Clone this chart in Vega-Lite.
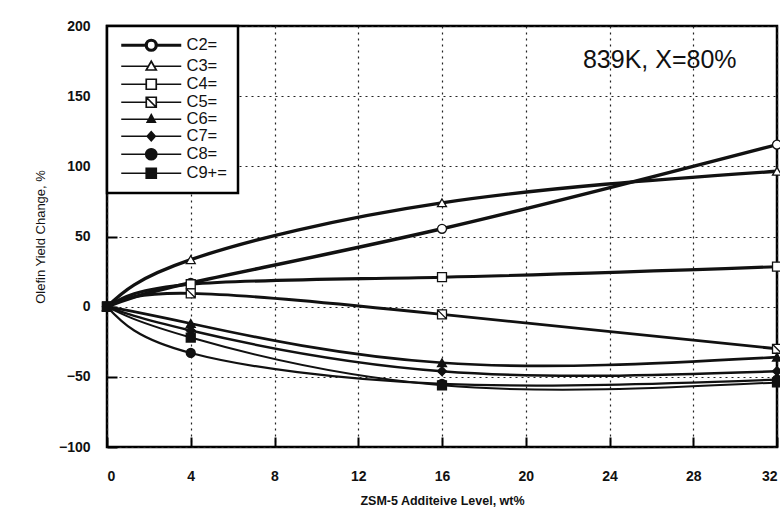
{
  "$schema": "https://vega.github.io/schema/vega-lite/v6.json",
  "width": 670,
  "height": 421,
  "autosize": {"type": "none"},
  "padding": {"left": 107, "top": 26, "right": 3, "bottom": 65},
  "background": "white",
  "config": {
    "view": {"stroke": "#000", "strokeWidth": 2.5},
    "font": "Liberation Sans",
    "axis": {
      "domain": false,
      "gridColor": "#222",
      "gridDash": [2, 4],
      "gridWidth": 1.2,
      "gridOpacity": 1,
      "tickColor": "#000",
      "tickWidth": 2,
      "labelFont": "Liberation Sans",
      "labelFontSize": 14,
      "labelFontWeight": "bold",
      "labelColor": "#111",
      "titleFont": "Liberation Sans",
      "titleColor": "#111"
    },
    "legend": {"strokeWidth": 2.5}
  },
  "datasets": {
    "pts": [
      {"s": "C2=", "x": 0, "y": 0}, {"s": "C2=", "x": 4, "y": 17}, {"s": "C2=", "x": 16, "y": 55.5}, {"s": "C2=", "x": 32, "y": 115.5},
      {"s": "C3=", "x": 0, "y": 0}, {"s": "C3=", "x": 4, "y": 33.5}, {"s": "C3=", "x": 16, "y": 74}, {"s": "C3=", "x": 32, "y": 96.5},
      {"s": "C4=", "x": 0, "y": 0}, {"s": "C4=", "x": 4, "y": 16}, {"s": "C4=", "x": 16, "y": 21}, {"s": "C4=", "x": 32, "y": 28.5},
      {"s": "C5=", "x": 0, "y": 0}, {"s": "C5=", "x": 4, "y": 9.5}, {"s": "C5=", "x": 16, "y": -5.5}, {"s": "C5=", "x": 32, "y": -30},
      {"s": "C6=", "x": 0, "y": 0}, {"s": "C6=", "x": 4, "y": -12}, {"s": "C6=", "x": 16, "y": -40}, {"s": "C6=", "x": 32, "y": -36},
      {"s": "C7=", "x": 0, "y": 0}, {"s": "C7=", "x": 4, "y": -17}, {"s": "C7=", "x": 16, "y": -46}, {"s": "C7=", "x": 32, "y": -46},
      {"s": "C8=", "x": 0, "y": 0}, {"s": "C8=", "x": 4, "y": -33}, {"s": "C8=", "x": 16, "y": -55}, {"s": "C8=", "x": 32, "y": -52},
      {"s": "C9+=", "x": 0, "y": 0}, {"s": "C9+=", "x": 4, "y": -22}, {"s": "C9+=", "x": 16, "y": -56}, {"s": "C9+=", "x": 32, "y": -54}
    ]
  },
  "data": {"name": "pts"},
  "layer": [
    {
      "mark": {"type": "line", "interpolate": "natural", "color": "#111"},
      "encoding": {
        "x": {
          "field": "x", "type": "quantitative",
          "scale": {"domain": [0, 32], "nice": false},
          "axis": {
            "values": [0, 4, 8, 12, 16, 20, 24, 28, 32],
            "title": "ZSM-5 Additeive Level, wt%",
            "titleFontSize": 12.5, "titleFontWeight": "bold", "titlePadding": 11,
            "tickSize": -10, "labelPadding": 32, "grid": true
          }
        },
        "y": {
          "field": "y", "type": "quantitative",
          "scale": {"domain": [-100, 200], "nice": false},
          "axis": {
            "values": [-100, -50, 0, 50, 100, 150, 200],
            "title": "Olefin Yield Change, %",
            "titleFontSize": 13, "titleFontWeight": "normal", "titlePadding": 11,
            "tickSize": -10, "labelPadding": 27, "grid": true
          }
        },
        "detail": {"field": "s"},
        "strokeWidth": {
          "field": "s", "type": "nominal",
          "scale": {"domain": ["C2=", "C3=", "C4=", "C5=", "C6=", "C7=", "C8=", "C9+="], "range": [3.5, 2, 2, 2, 2, 2, 2, 2]},
          "legend": null
        }
      }
    },
    {
      "mark": {"type": "point", "filled": true, "stroke": "#111", "strokeWidth": 1.3, "opacity": 1},
      "encoding": {
        "x": {"field": "x", "type": "quantitative"},
        "y": {"field": "y", "type": "quantitative"},
        "shape": {
          "field": "s", "type": "nominal",
          "scale": {
            "domain": ["C2=", "C3=", "C4=", "C5=", "C6=", "C7=", "C8=", "C9+="],
            "range": ["circle", "triangle-up", "square", "M-1,-1H1V1H-1ZM-1,-1L1,1", "triangle-up", "diamond", "circle", "square"]
          },
          "legend": null
        },
        "fill": {
          "field": "s", "type": "nominal",
          "scale": {
            "domain": ["C2=", "C3=", "C4=", "C5=", "C6=", "C7=", "C8=", "C9+="],
            "range": ["white", "white", "white", "white", "#111", "#111", "#111", "#111"]
          },
          "legend": null
        },
        "size": {
          "field": "s", "type": "nominal",
          "scale": {
            "domain": ["C2=", "C3=", "C4=", "C5=", "C6=", "C7=", "C8=", "C9+="],
            "range": [80, 80, 80, 80, 60, 60, 100, 130]
          },
          "legend": null
        }
      }
    },
    {
      "transform": [{"filter": "datum.x > 1000"}],
      "mark": {"type": "point", "filled": true, "stroke": "#111", "strokeWidth": 1.8, "size": 100, "opacity": 1},
      "encoding": {
        "x": {"field": "x", "type": "quantitative"},
        "y": {"field": "y", "type": "quantitative"},
        "shape": {
          "field": "s", "type": "nominal",
          "scale": {
            "domain": ["C2=", "C3=", "C4=", "C5=", "C6=", "C7=", "C8=", "C9+="],
            "range": [
              "M-6,0H-1M1,0H6M1,0A1,1,0,1,1,-1,0A1,1,0,1,1,1,0Z",
              "M-6,0H-0.55M0.55,0H6M0,-1L1,0.75H-1Z",
              "M-6,0H-1M1,0H6M-1,-1H1V1H-1Z",
              "M-6,0H-1M1,0H6M-1,-1H1V1H-1ZM-1,-1L1,1",
              "M-6,0H6M0,-0.9L0.8,0.6H-0.8Z",
              "M-6,0H6M0,-0.9L0.8,0L0,0.9L-0.8,0Z",
              "M-6,0H6M1.1,0A1.1,1.1,0,1,1,-1.1,0A1.1,1.1,0,1,1,1.1,0Z",
              "M-6,0H6M-1,-1H1V1H-1Z"
            ]
          },
          "legend": {
            "title": null, "orient": "top-left", "offset": 0, "padding": 11,
            "symbolSize": 100, "symbolOffset": 25, "labelOffset": 27,
            "labelFontSize": 16.5, "labelFont": "Liberation Sans", "labelColor": "#111",
            "rowPadding": 0, "strokeColor": "#000", "fillColor": "white",
            "symbolStrokeColor": "#111", "symbolStrokeWidth": 1.8, "symbolOpacity": 1,
            "encode": {"symbols": {"update": {"stroke": {"value": "#111"}, "strokeWidth": {"signal": "datum.value === 'C2=' ? 3.2 : 1.7"}, "opacity": {"value": 1}}}}
          }
        },
        "fill": {
          "field": "s", "type": "nominal",
          "scale": {
            "domain": ["C2=", "C3=", "C4=", "C5=", "C6=", "C7=", "C8=", "C9+="],
            "range": ["white", "white", "white", "white", "#111", "#111", "#111", "#111"]
          },
          "legend": {
            "title": null, "orient": "top-left", "offset": 0, "padding": 11,
            "symbolSize": 100, "symbolOffset": 25, "labelOffset": 27,
            "labelFontSize": 16.5, "labelFont": "Liberation Sans", "labelColor": "#111",
            "rowPadding": 0, "strokeColor": "#000", "fillColor": "white",
            "symbolStrokeColor": "#111", "symbolStrokeWidth": 1.8, "symbolOpacity": 1,
            "encode": {"symbols": {"update": {"stroke": {"value": "#111"}, "strokeWidth": {"signal": "datum.value === 'C2=' ? 3.2 : 1.7"}, "opacity": {"value": 1}}}}
          }
        }
      }
    },
    {
      "data": {"values": [{}]},
      "mark": {"type": "text", "fontSize": 25, "font": "Liberation Sans", "color": "#111"},
      "encoding": {
        "x": {"datum": 26.4, "type": "quantitative"},
        "y": {"datum": 176, "type": "quantitative"},
        "text": {"value": "839K, X=80%"}
      }
    }
  ],
  "resolve": {"scale": {"shape": "independent", "fill": "independent", "size": "independent", "strokeWidth": "independent"}}
}
